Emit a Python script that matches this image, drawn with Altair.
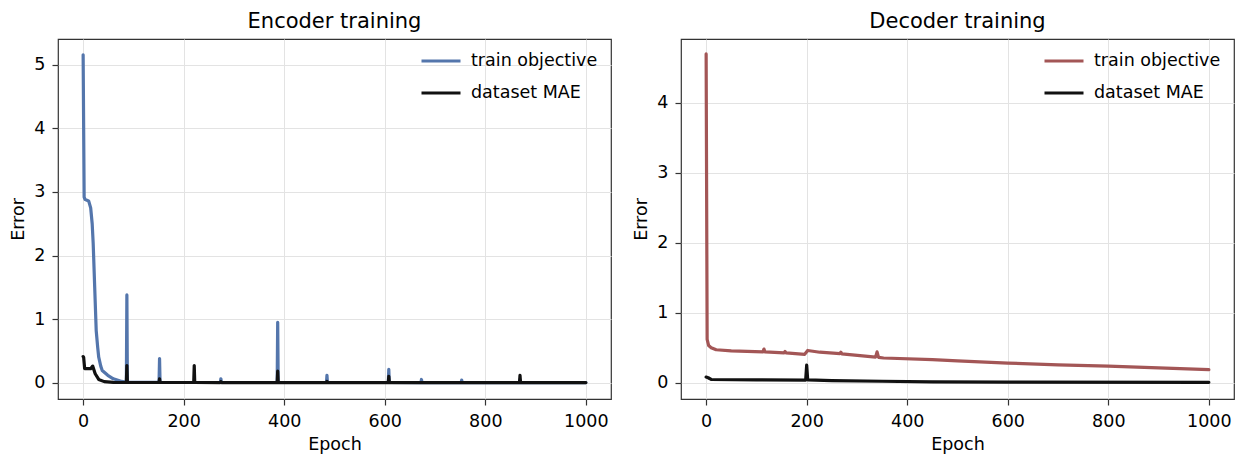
import altair as alt
import pandas as pd

FONT = "DejaVu Sans"

# ---- data (epoch, value) ----
enc_train = [(0, 5.16), (2, 2.92), (4, 2.88), (11, 2.86), (15, 2.75), (18, 2.5), (20, 2.19), (23, 1.5),
             (26, 0.82), (29, 0.55), (31, 0.4), (35, 0.26), (38, 0.19), (49, 0.115), (60, 0.06), (74, 0.026), (84, 0.01),
             (86, 0.008), (87, 1.38), (88, 0.008), (100, 0.005), (151, 0.003), (152, 0.38),
             (153, 0.003), (273, 0.002), (274, 0.06), (275, 0.002), (386, 0.002), (387, 0.95),
             (388, 0.002), (484, 0.002), (485, 0.115), (486, 0.002), (607, 0.002), (608, 0.21),
             (609, 0.002), (672, 0.001), (673, 0.05), (674, 0.001), (752, 0.001), (753, 0.04),
             (754, 0.001), (868, 0.001), (869, 0.05), (870, 0.001), (1000, 0.001)]
enc_mae = [(0, 0.41), (1, 0.40), (3, 0.22), (15, 0.22), (19, 0.26), (24, 0.14), (31, 0.05),
           (42, 0.016), (60, 0.005), (86, 0.002), (87, 0.27), (88, 0.002), (151, 0.002),
           (152, 0.06), (153, 0.002), (220, 0.002), (221, 0.27), (222, 0.002), (273, 0.001),
           (274, 0.015), (275, 0.001), (386, 0.001), (387, 0.18), (388, 0.001), (484, 0.001),
           (485, 0.02), (486, 0.001), (607, 0.001), (608, 0.1), (609, 0.001), (868, 0.001),
           (869, 0.115), (870, 0.001), (1000, 0.001)]
dec_train = [(0, 4.7), (2, 0.62), (5, 0.53), (10, 0.5), (20, 0.47), (50, 0.455), (113, 0.44),
             (115, 0.48), (117, 0.44), (155, 0.425), (157, 0.445), (159, 0.425), (196, 0.405),
             (202, 0.46), (226, 0.435), (266, 0.415), (268, 0.435), (270, 0.412), (337, 0.365),
             (340, 0.44), (343, 0.362), (353, 0.352), (450, 0.33), (500, 0.31), (600, 0.28),
             (700, 0.255), (800, 0.235), (900, 0.21), (1000, 0.185)]
dec_mae = [(0, 0.08), (4, 0.07), (10, 0.045), (100, 0.04), (198, 0.035), (200, 0.25), (202, 0.04),
           (250, 0.03), (350, 0.02), (450, 0.012), (600, 0.008), (1000, 0.005)]

series_names = ["train objective", "dataset MAE"]
x_ticks = [0, 200, 400, 600, 800, 1000]
enc_y_ticks = [0, 1, 2, 3, 4, 5]
dec_y_ticks = [0, 1, 2, 3, 4]


def frame(points, name):
    return pd.DataFrame({"epoch": [p[0] for p in points],
                         "value": [p[1] for p in points],
                         "series": name})


def panel(title, train, mae, train_color, ydom, yticks):
    df_t = frame(train, series_names[0])
    df_m = frame(mae, series_names[1])
    color = alt.Color(
        "series:N",
        scale=alt.Scale(domain=series_names, range=[train_color, "#111111"]),
        legend=alt.Legend(title=None, orient="none", legendX=362, legendY=1,
                          symbolType="stroke", symbolSize=1521, symbolStrokeWidth=3,
                          labelOffset=9, labelFontSize=17.5,
                          labelFont=FONT, labelColor="black", padding=0),
    )
    x = alt.X("epoch:Q", title="Epoch",
              scale=alt.Scale(domain=[-50, 1050], nice=False, zero=False),
              axis=alt.Axis(values=x_ticks, format="d", titlePadding=6))
    y = alt.Y("value:Q", title="Error",
              scale=alt.Scale(domain=ydom, nice=False, zero=False),
              axis=alt.Axis(values=yticks, format="d", titlePadding=6))
    style = dict(strokeWidth=3.2, strokeCap="round", strokeJoin="round", clip=True)
    l1 = alt.Chart(df_t).mark_line(**style).encode(x=x, y=y, color=color)
    l2 = alt.Chart(df_m).mark_line(**style).encode(x=x, y=y, color=color)
    return alt.layer(l1, l2).properties(
        width=553, height=360,
        title=alt.TitleParams(title, fontSize=21, font=FONT, fontWeight="normal",
                              color="black", offset=7),
    )


left = panel("Encoder training", enc_train, enc_mae, "#5476ac", [-0.2575, 5.4075], enc_y_ticks)
right = panel("Decoder training", dec_train, dec_mae, "#a35656", [-0.234, 4.914], dec_y_ticks)

chart = (
    alt.hconcat(left, right, spacing=20)
    .resolve_scale(color="independent", x="independent", y="independent")
    .properties(padding={"left": 1, "top": 2, "right": 0, "bottom": 0})
    .configure_axis(grid=True, gridColor="#e3e3e3", gridWidth=1, domain=False,
                    tickColor="#333333", tickSize=6, tickWidth=1.2,
                    labelFont=FONT, labelFontSize=17.5, labelColor="black", labelPadding=7,
                    titleFont=FONT, titleFontSize=17.5, titleFontWeight="normal",
                    titleColor="black")
    .configure_view(stroke="#333333", strokeWidth=1.2)
)

chart.save("out.html", embed_options={"renderer": "svg", "actions": False})
